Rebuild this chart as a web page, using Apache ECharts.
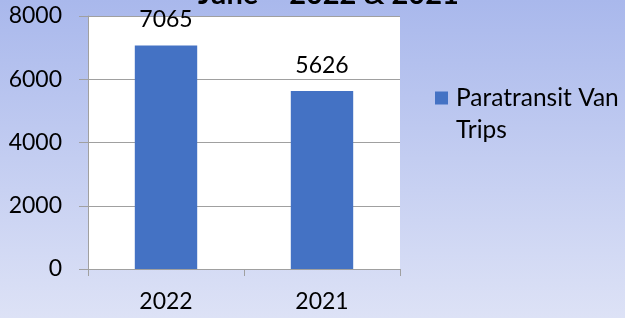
<!DOCTYPE html>
<html><head><meta charset="utf-8">
<script src="https://cdn.jsdelivr.net/npm/echarts@6/dist/echarts.min.js"></script>
<style>html,body{margin:0;padding:0;}#c{width:625px;height:318px;}</style>
</head><body><div id="c"></div>
<script>
const titleText = 'June \u2013 2022 & 2021';
const categories = ['2022', '2021'];
const seriesName = 'Paratransit Van Trips';
const values = [7065, 5626];
const yTicks = [0, 2000, 4000, 6000, 8000];

const chart = echarts.init(document.getElementById('c'));
const FONT = 'Lato';
chart.setOption({
  animation: false,
  backgroundColor: {type:'linear', x:0, y:0, x2:0, y2:1, colorStops:[{offset:0,color:'#A9B8EC'},{offset:1,color:'#DDE2F6'}]},
  textStyle: {fontFamily: FONT},
  title: {text: titleText, left: 198, top: -20, padding: 0,
    textStyle: {fontFamily: FONT, fontWeight: 'bold', fontSize: 29, color: '#000'}},
  legend: {left: 435, top: 82, padding: 0, itemWidth: 16, itemHeight: 45, itemGap: 8,
    icon: 'path://M0,0H13V13H0Z M16,45',
    formatter: () => 'Paratransit Van\nTrips',
    textStyle: {fontFamily: FONT, fontSize: 24.5, color: '#000', lineHeight: 32}},
  grid: {left: 88, right: 225, top: 16, bottom: 49, show: true, backgroundColor: '#fff', borderWidth: 0},
  xAxis: {type: 'category', data: categories,
    axisLine: {lineStyle: {color: '#A0A0A0'}},
    axisTick: {show: true, length: 7, lineStyle: {color: '#A0A0A0'}},
    axisLabel: {fontFamily: FONT, fontSize: 23, color: '#000', margin: 21}},
  yAxis: {type: 'value', min: yTicks[0], max: yTicks[yTicks.length-1], interval: yTicks[1]-yTicks[0],
    axisLine: {show: true, lineStyle: {color: '#A0A0A0'}},
    axisTick: {show: true, length: 9, lineStyle: {color: '#A0A0A0'}},
    splitLine: {lineStyle: {color: '#A0A0A0'}},
    axisLabel: {fontFamily: FONT, fontSize: 23, color: '#000', margin: 26, formatter: v => String(v)}},
  series: [{name: seriesName, type: 'bar', data: values, barWidth: '40%',
    itemStyle: {color: '#4472C4'},
    label: {show: true, position: 'top', distance: 14, fontFamily: FONT, fontSize: 23, color: '#000'}}]
});
</script></body></html>
